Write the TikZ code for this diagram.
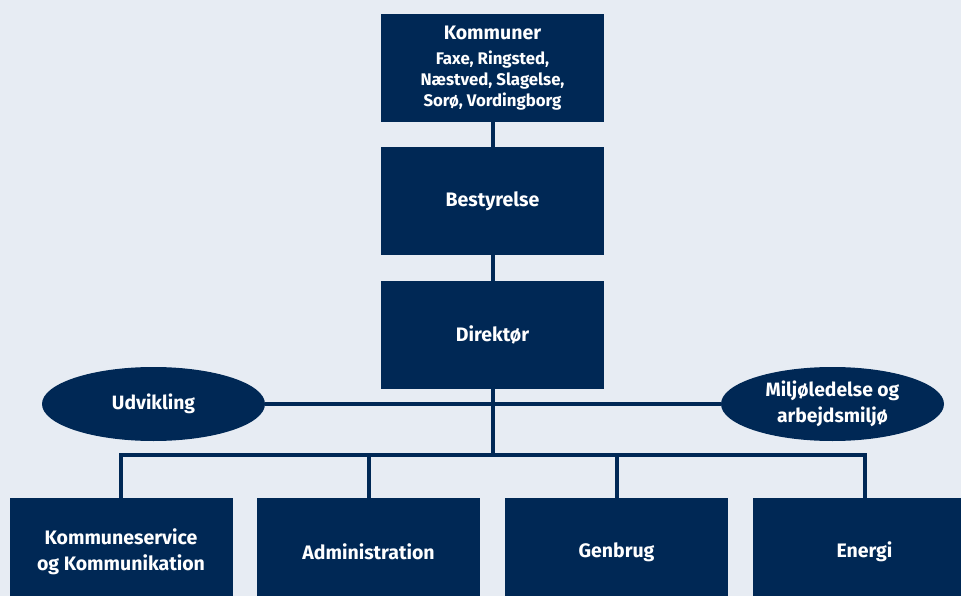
\documentclass[tikz,border=0pt]{standalone}
\usepackage{fontspec}
\setmainfont{Fira Sans}
\usetikzlibrary{shapes.geometric}

\definecolor{navy}{RGB}{0,40,85}
\definecolor{bgblue}{RGB}{231,236,243}

\newcommand\subtxt{\fontsize{16.8}{21}\selectfont}

\tikzset{
  orgbox/.style={fill=navy, text=white, minimum width=223pt, minimum height=108pt,
    align=center, inner sep=0pt, font=\bfseries\fontsize{19.5}{26}\selectfont},
  orgoval/.style={ellipse, fill=navy, text=white, minimum width=223pt, minimum height=74pt,
    align=center, inner sep=0pt, font=\bfseries\fontsize{19.3}{26}\selectfont},
  orgline/.style={draw=navy, line width=4pt}
}

\begin{document}
\begin{tikzpicture}[x=1pt,y=-1pt]
\useasboundingbox (0,0) rectangle (961,596);
\fill[bgblue] (0,0) rectangle (961,596);
\clip (0,0) rectangle (961,596);

% top of the tree
\node[orgbox] (kommuner) at (492.5,68) {Kommuner\\[-1pt]
  \subtxt Faxe, Ringsted,\\[-5pt] \subtxt Næstved, Slagelse,\\[-5pt] \subtxt Sorø, Vordingborg};
\node[orgbox] (bestyrelse) at (492.5,201) {Bestyrelse};
\node[orgbox] (direktoer) at (492.5,335) {Direktør};

% staff functions
\node[orgoval] (udvikling) at (153.5,404) {Udvikling};
\node[orgoval] (miljoe) at (832.5,404) {Miljøledelse og\\arbejdsmiljø};

% departments
\node[orgbox] (kommuneservice) at (121,552) {Kommuneservice\\og Kommunikation};
\node[orgbox] (administration) at (368.5,552) {Administration};
\node[orgbox] (genbrug) at (616.5,552) {Genbrug};
\node[orgbox] (energi) at (864.5,552) {Energi};

\coordinate (bus) at (492.5,455);

\draw[orgline] (kommuner.south) -- (bestyrelse.north);
\draw[orgline] (bestyrelse.south) -- (direktoer.north);
\draw[orgline] (direktoer.south) -- (bus);
\draw[orgline] (udvikling.east) -- (miljoe.west);
\draw[orgline] (kommuneservice.north) |- (bus) -| (energi.north);
\draw[orgline] (administration.north) -- (administration.north |- bus);
\draw[orgline] (genbrug.north) -- (genbrug.north |- bus);
\end{tikzpicture}
\end{document}
